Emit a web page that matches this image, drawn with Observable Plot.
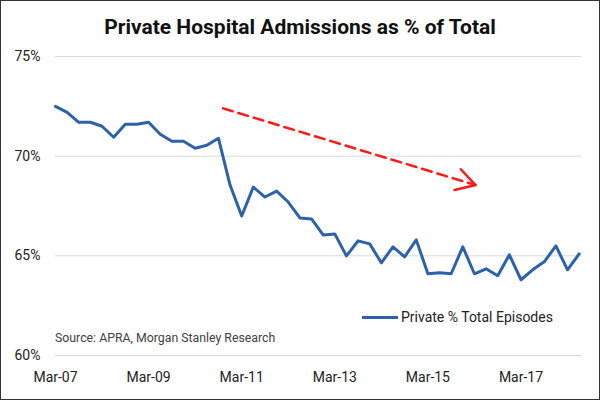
<!DOCTYPE html>
<html>
<head>
<meta charset="utf-8">
<script src="https://cdn.jsdelivr.net/npm/d3@7"></script>
<script src="https://cdn.jsdelivr.net/npm/@observablehq/plot@0.6"></script>
<style>
  html, body { margin: 0; padding: 0; background: #fff; }
  #wrap { position: relative; width: 600px; height: 400px; box-sizing: border-box; border: 1px solid #333; font-family: Roboto, sans-serif; overflow: hidden; }
  #chart { position: absolute; left: 0; top: 0; }
  #title { position: absolute; left: 0; width: 598px; top: 16px; text-align: center; font-size: 21px; line-height: 21px; font-weight: bold; color: #111; }
  #source { position: absolute; left: 54px; top: 330px; font-size: 12.3px; line-height: 14px; color: #404040; }
  #legend { position: absolute; left: 361px; top: 308px; font-size: 14px; line-height: 16px; color: #222; display: flex; align-items: center; }
  #legend .sw { width: 36px; height: 3px; background: #2c62ab; margin-right: 3px; }
</style>
</head>
<body>
<div id="wrap">
  <div id="chart"></div>
  <div id="title">Private Hospital Admissions as % of Total</div>
  <div id="source">Source: APRA, Morgan Stanley Research</div>
  <div id="legend"><div class="sw"></div><span>Private % Total Episodes</span></div>
</div>
<script>
// Quarterly observations, Mar-07 .. Jun-18 (index 0 = Mar-07)
const seriesName = "Private % Total Episodes";
const values = [
  72.5, 72.2, 71.7, 71.7, 71.5, 70.95, 71.6, 71.6,
  71.7, 71.1, 70.75, 70.75, 70.4, 70.55, 70.9, 68.55,
  67.0, 68.45, 67.95, 68.25, 67.7, 66.9, 66.85, 66.05,
  66.1, 65.0, 65.75, 65.6, 64.65, 65.45, 64.95, 65.8,
  64.1, 64.15, 64.1, 65.45, 64.1, 64.35, 64.0, 65.05,
  63.8, 64.3, 64.7, 65.5, 64.3, 65.1
];
const tickIndex = [0, 8, 16, 24, 32, 40];
const tickLabels = ["Mar-07", "Mar-09", "Mar-11", "Mar-13", "Mar-15", "Mar-17"];
const yTicks = [60, 65, 70, 75];
// Trend annotation (red dashed arrow), in data coordinates
const trendArrow = [{x1: 14.4, y1: 72.4, x2: 36.1, y2: 68.55}];

const data = values.map((v, i) => ({i, v}));

const chart = Plot.plot({
  width: 598,
  height: 398,
  marginLeft: 54,
  marginRight: 18,
  marginTop: 55,
  marginBottom: 44,
  style: {fontFamily: "Roboto, sans-serif", fontSize: "14px", color: "#222", background: "transparent"},
  x: {domain: [0, 45.2], axis: null},
  y: {domain: [60, 75], axis: null},
  marks: [
    Plot.gridY(yTicks, {stroke: "#d9d9d9", strokeOpacity: 1, strokeWidth: 1}),
    Plot.axisY(yTicks, {tickSize: 0, tickPadding: 15, tickFormat: d => d + "%", fontSize: 14, fill: "#222", label: null}),
    Plot.axisX(tickIndex, {tickSize: 0, tickPadding: 17, tickFormat: (d, k) => tickLabels[k], fontSize: 14, fill: "#222", label: null}),
    Plot.line(data, {x: "i", y: "v", stroke: "#2c62ab", strokeWidth: 3, strokeLinejoin: "round"}),
    Plot.arrow(trendArrow, {x1: "x1", y1: "y1", x2: "x2", y2: "y2", stroke: "#ff1a1a", strokeWidth: 2.5, strokeDasharray: "10,6", headLength: 13, bend: 0, inset: 0})
  ]
});
// Keep the arrow's shaft dashed but draw its head solid
chart.querySelectorAll('g[aria-label="arrow"] path').forEach(p => {
  const d = p.getAttribute("d");
  const k = d.indexOf("M", 1);
  if (k > 0) {
    p.setAttribute("d", d.slice(0, k));
    const h = p.cloneNode(false);
    h.setAttribute("d", d.slice(k));
    h.style.strokeDasharray = "none";
    h.setAttribute("stroke-dasharray", "none");
    p.parentNode.appendChild(h);
  }
});
document.getElementById("chart").appendChild(chart);
</script>
</body>
</html>
